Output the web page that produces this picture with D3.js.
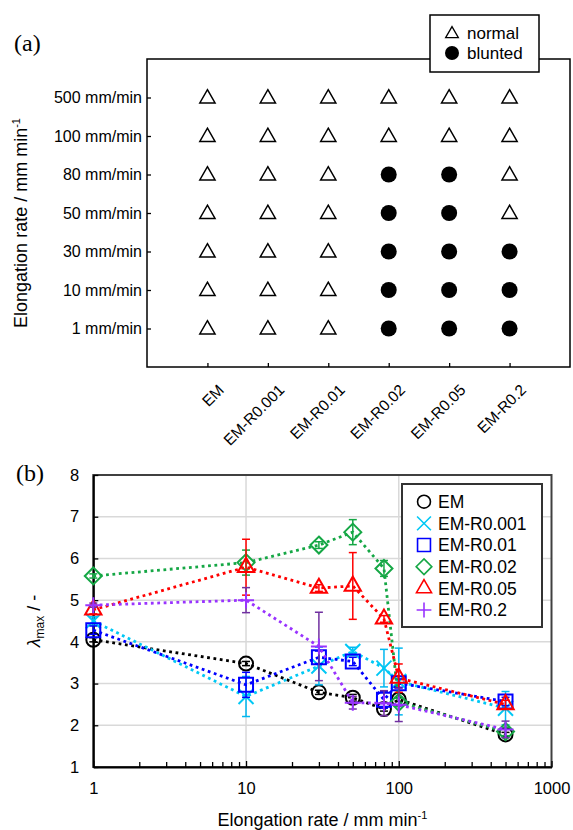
<!DOCTYPE html>
<html>
<head>
<meta charset="utf-8">
<script src="https://cdn.jsdelivr.net/npm/d3@7"></script>
<style>
  body { margin: 0; background: #fff; }
  text { font-family: Arial, "Liberation Sans", sans-serif; }
</style>
</head>
<body>
<div id="chart"></div>
<script>
// ---- panel (a) data ----
const samples = ["EM", "EM-R0.001", "EM-R0.01", "EM-R0.02", "EM-R0.05", "EM-R0.2"];
const rateLabels = ["500 mm/min", "100 mm/min", "80 mm/min", "50 mm/min", "30 mm/min", "10 mm/min", "1 mm/min"];
// shape per sample, rows from 500 down to 1 mm/min (N = normal, B = blunted)
const shapeEM    = ["N", "N", "N", "N", "N", "N", "N"];
const shapeR0001 = ["N", "N", "N", "N", "N", "N", "N"];
const shapeR001  = ["N", "N", "N", "N", "N", "N", "N"];
const shapeR002  = ["N", "N", "B", "B", "B", "B", "B"];
const shapeR005  = ["N", "N", "B", "B", "B", "B", "B"];
const shapeR02   = ["N", "N", "N", "N", "B", "B", "B"];

// ---- panel (b) data ----
const rates = [1, 10, 30, 50, 80, 100, 500];
const lamEM    = [4.05, 3.48, 2.79, 2.66, 2.39, 2.62, 1.78];
const errEM    = [0.05, 0.05, 0.05, 0.08, 0.05, 0.05, 0.05];
const lamR0001 = [4.50, 2.69, 3.42, 3.77, 3.37, 3.05, 2.41];
const errR0001 = [0.10, 0.48, 0.45, 0.10, 0.45, 0.80, 0.40];
const lamR001  = [4.28, 2.97, 3.63, 3.53, 2.61, 3.01, 2.57];
const errR001  = [0.10, 0.30, 0.15, 0.10, 0.20, 0.10, 0.10];
const lamR002  = [5.58, 5.90, 6.32, 6.63, 5.76, 2.55, 1.85];
const errR002  = [0.05, 0.30, 0.08, 0.30, 0.19, 0.10, 0.10];
const lamR005  = [4.77, 5.79, 5.29, 5.34, 4.55, 3.13, 2.50];
const errR005  = [0.10, 0.67, 0.08, 0.80, 0.08, 0.34, 0.10];
const lamR02   = [4.88, 5.00, 3.89, 2.54, 2.53, 2.49, 1.90];
const errR02   = [0.05, 0.30, 0.82, 0.15, 0.30, 0.40, 0.20];

const W = 573, H = 830;
const svg = d3.select("#chart").append("svg")
  .attr("width", W).attr("height", H);

// custom marker shapes (size = width squared)
const symTimes = { draw(c, s) { const r = Math.sqrt(s) / 2; c.moveTo(-r, -r); c.lineTo(r, r); c.moveTo(r, -r); c.lineTo(-r, r); } };
const symPlus = { draw(c, s) { const r = Math.sqrt(s) / 2; c.moveTo(-r, 0); c.lineTo(r, 0); c.moveTo(0, -r); c.lineTo(0, r); } };
const symDiamond = { draw(c, s) { const r = Math.sqrt(s) / 2; c.moveTo(0, -r); c.lineTo(r, 0); c.lineTo(0, r); c.lineTo(-r, 0); c.closePath(); } };

const serif = "'Liberation Serif', 'Times New Roman', serif";

// =================== panel (a) ===================
const boxA = {left: 147, right: 570, top: 59, bottom: 367};

const xA = d3.scalePoint().domain(samples).range([boxA.left, boxA.right]).padding(1);
const yA = d3.scalePoint().domain(rateLabels).range([boxA.top, boxA.bottom]).padding(1);

const gA = svg.append("g");

gA.append("rect")
  .attr("x", boxA.left).attr("y", boxA.top)
  .attr("width", boxA.right - boxA.left).attr("height", boxA.bottom - boxA.top)
  .attr("fill", "none").attr("stroke", "#000").attr("stroke-width", 1.5);

const yAxisA = gA.append("g")
  .attr("transform", `translate(${boxA.left},0)`)
  .call(d3.axisLeft(yA).tickSizeInner(-4).tickSizeOuter(0).tickPadding(5));
yAxisA.select(".domain").remove();
yAxisA.selectAll("line").attr("stroke", "#000").attr("stroke-width", 1.3);
yAxisA.selectAll("text").attr("font-size", 16).attr("fill", "#000");

const xAxisA = gA.append("g")
  .attr("transform", `translate(0,${boxA.bottom})`)
  .call(d3.axisBottom(xA).tickSizeInner(-4).tickSizeOuter(0));
xAxisA.select(".domain").remove();
xAxisA.selectAll("line").attr("stroke", "#000").attr("stroke-width", 1.3);
xAxisA.selectAll("text")
  .attr("font-size", 15.5).attr("fill", "#000")
  .attr("text-anchor", "end")
  .attr("y", 0).attr("dy", 0)
  .attr("transform", "translate(17,24) rotate(-45)");

gA.append("text")
  .attr("transform", `translate(27,${(boxA.top + boxA.bottom) / 2 + 10}) rotate(-90)`)
  .attr("text-anchor", "middle")
  .attr("font-size", 18)
  .call(t => {
    t.append("tspan").text("Elongation  rate / mm min");
    t.append("tspan").attr("font-size", 11).attr("dy", -7).text("-1");
  });

gA.append("text")
  .attr("x", 14).attr("y", 51)
  .style("font-family", serif)
  .attr("font-size", 24)
  .text("(a)");

const shapeCols = [shapeEM, shapeR0001, shapeR001, shapeR002, shapeR005, shapeR02];
const cells = [];
samples.forEach((s, i) => {
  rateLabels.forEach((r, j) => cells.push({sample: s, rate: r, shape: shapeCols[i][j]}));
});

const triA = d3.symbol(d3.symbolTriangle, 100);
const dotA = d3.symbol(d3.symbolCircle, Math.PI * 64);
gA.selectAll(".cell")
  .data(cells)
  .enter()
  .append("path")
  .attr("class", "cell")
  .attr("transform", d => `translate(${xA(d.sample)},${yA(d.rate) + (d.shape === "N" ? 1 : 0)})`)
  .attr("d", d => d.shape === "N" ? triA() : dotA())
  .attr("fill", d => d.shape === "N" ? "none" : "#000")
  .attr("stroke", "#000")
  .attr("stroke-width", d => d.shape === "N" ? 1.5 : 0);

// legend (a)
const legA = gA.append("g");
legA.append("rect")
  .attr("x", 430).attr("y", 15).attr("width", 109).attr("height", 57)
  .attr("fill", "#fff").attr("stroke", "#000").attr("stroke-width", 1.5);
legA.append("path")
  .attr("transform", "translate(452,34)")
  .attr("d", d3.symbol(d3.symbolTriangle, 70)())
  .attr("fill", "none").attr("stroke", "#000").attr("stroke-width", 1.3);
legA.append("path")
  .attr("transform", "translate(452,53)")
  .attr("d", d3.symbol(d3.symbolCircle, Math.PI * 49)())
  .attr("fill", "#000");
legA.append("text").attr("x", 467).attr("y", 33).attr("dy", "0.35em").attr("font-size", 17).text("normal");
legA.append("text").attr("x", 467).attr("y", 53).attr("dy", "0.35em").attr("font-size", 17).text("blunted");

// =================== panel (b) ===================
const boxB = {left: 93.3, right: 551.5, top: 475, bottom: 767};

const xB = d3.scaleLog().domain([1, 1000]).range([boxB.left, boxB.right]);
const yB = d3.scaleLinear().domain([1, 8]).range([boxB.bottom, boxB.top]);

const gB = svg.append("g");

// grid
gB.selectAll(".hgrid")
  .data(d3.range(2, 8))
  .enter().append("line")
  .attr("x1", boxB.left).attr("x2", boxB.right)
  .attr("y1", d => yB(d)).attr("y2", d => yB(d))
  .attr("stroke", "#d9d9d9").attr("stroke-width", 1.5);
gB.selectAll(".vgrid")
  .data([10, 100])
  .enter().append("line")
  .attr("x1", d => xB(d)).attr("x2", d => xB(d))
  .attr("y1", boxB.top).attr("y2", boxB.bottom)
  .attr("stroke", "#d9d9d9").attr("stroke-width", 1.5);

gB.append("rect")
  .attr("x", boxB.left).attr("y", boxB.top)
  .attr("width", boxB.right - boxB.left).attr("height", boxB.bottom - boxB.top)
  .attr("fill", "none").attr("stroke", "#404040").attr("stroke-width", 2);

const yAxisB = gB.append("g")
  .attr("transform", `translate(${boxB.left},0)`)
  .call(d3.axisLeft(yB).tickValues(d3.range(1, 9)).tickFormat(d3.format("d"))
    .tickSizeInner(-5).tickSizeOuter(0).tickPadding(14));
yAxisB.select(".domain").attr("stroke", "#000").attr("stroke-width", 2);
yAxisB.selectAll("line").attr("stroke", "#000").attr("stroke-width", 1.3);
yAxisB.selectAll("text").attr("font-size", 16.5).attr("fill", "#000");

const minorB = [];
[1, 10, 100].forEach(d => { for (let k = 2; k <= 9; k++) minorB.push(d * k); });
const xMinorB = gB.append("g")
  .attr("transform", `translate(0,${boxB.bottom})`)
  .call(d3.axisBottom(xB).tickValues(minorB).tickFormat("").tickSizeInner(-5).tickSizeOuter(0));
xMinorB.select(".domain").remove();
xMinorB.selectAll("line").attr("stroke", "#000").attr("stroke-width", 1.3);

const xAxisB = gB.append("g")
  .attr("transform", `translate(0,${boxB.bottom})`)
  .call(d3.axisBottom(xB).tickValues([1, 10, 100, 1000]).tickFormat(d3.format("d"))
    .tickSizeInner(-6).tickSizeOuter(0).tickPadding(15));
xAxisB.select(".domain").attr("stroke", "#000").attr("stroke-width", 2);
xAxisB.selectAll("line").attr("stroke", "#000").attr("stroke-width", 1.3);
xAxisB.selectAll("text").attr("font-size", 16.5).attr("fill", "#000");

gB.append("text")
  .attr("x", (boxB.left + boxB.right) / 2).attr("y", 826)
  .attr("text-anchor", "middle")
  .attr("font-size", 18)
  .call(t => {
    t.append("tspan").text("Elongation  rate / mm min");
    t.append("tspan").attr("font-size", 11).attr("dy", -7).text("-1");
  });

gB.append("text")
  .attr("transform", `translate(40,${(boxB.top + boxB.bottom) / 2}) rotate(-90)`)
  .attr("text-anchor", "middle")
  .attr("font-size", 18)
  .call(t => {
    t.append("tspan").attr("font-style", "italic").text("λ");
    t.append("tspan").attr("font-size", 12).attr("dy", 4).text("max");
    t.append("tspan").attr("dy", -4).text(" / -");
  });

gB.append("text")
  .attr("x", 16).attr("y", 481)
  .style("font-family", serif)
  .attr("font-size", 24)
  .text("(b)");

const series = [
  {name: "EM",        vals: lamEM,    errs: errEM,    color: "#000000", err: "#000000", sym: d3.symbolCircle, size: Math.PI * 49},
  {name: "EM-R0.001", vals: lamR0001, errs: errR0001, color: "#00C8F5", err: "#00B8F0", sym: symTimes,        size: 225},
  {name: "EM-R0.01",  vals: lamR001,  errs: errR001,  color: "#0000FF", err: "#0000FF", sym: d3.symbolSquare, size: 196},
  {name: "EM-R0.02",  vals: lamR002,  errs: errR002,  color: "#15A745", err: "#15A745", sym: symDiamond,      size: 289},
  {name: "EM-R0.05",  vals: lamR005,  errs: errR005,  color: "#FF0000", err: "#FF0000", sym: d3.symbolTriangle, size: 115},
  {name: "EM-R0.2",   vals: lamR02,   errs: errR02,   color: "#9933FF", err: "#7030A0", sym: symPlus,         size: 256}
];

const line = d3.line().x(d => xB(d.r)).y(d => yB(d.v));

series.forEach(s => {
  const pts = rates.map((r, i) => ({r: r, v: s.vals[i], e: s.errs[i]}));
  const g = gB.append("g");
  g.append("path")
    .datum(pts)
    .attr("d", line)
    .attr("fill", "none")
    .attr("stroke", s.color)
    .attr("stroke-width", 2.8)
    .attr("stroke-dasharray", "2.8 3.6");

  const eb = g.selectAll(".eb").data(pts).enter().append("g")
    .attr("stroke", s.err).attr("stroke-width", 1.5);
  eb.append("line")
    .attr("x1", d => xB(d.r)).attr("x2", d => xB(d.r))
    .attr("y1", d => yB(d.v - d.e)).attr("y2", d => yB(d.v + d.e));
  eb.append("line")
    .attr("x1", d => xB(d.r) - 4).attr("x2", d => xB(d.r) + 4)
    .attr("y1", d => yB(d.v - d.e)).attr("y2", d => yB(d.v - d.e));
  eb.append("line")
    .attr("x1", d => xB(d.r) - 4).attr("x2", d => xB(d.r) + 4)
    .attr("y1", d => yB(d.v + d.e)).attr("y2", d => yB(d.v + d.e));

  g.selectAll(".mk").data(pts).enter().append("path")
    .attr("transform", d => `translate(${xB(d.r)},${yB(d.v)})`)
    .attr("d", d3.symbol(s.sym, s.size)())
    .attr("fill", "none")
    .attr("stroke", s.color)
    .attr("stroke-width", 2);
});

// legend (b)
const legB = gB.append("g");
legB.append("rect")
  .attr("x", 402).attr("y", 484).attr("width", 140).attr("height", 143)
  .attr("fill", "#fff").attr("stroke", "#333").attr("stroke-width", 2);
const legRow = d3.scalePoint().domain(series.map(s => s.name)).range([501.7, 610]);
series.forEach(s => {
  legB.append("path")
    .attr("transform", `translate(424,${legRow(s.name)})`)
    .attr("d", d3.symbol(s.sym, s.size * 0.85)())
    .attr("fill", "none").attr("stroke", s.color).attr("stroke-width", 1.6);
  legB.append("text")
    .attr("x", 438).attr("y", legRow(s.name)).attr("dy", "0.36em")
    .attr("font-size", 17.5)
    .text(s.name);
});
</script>
</body>
</html>
